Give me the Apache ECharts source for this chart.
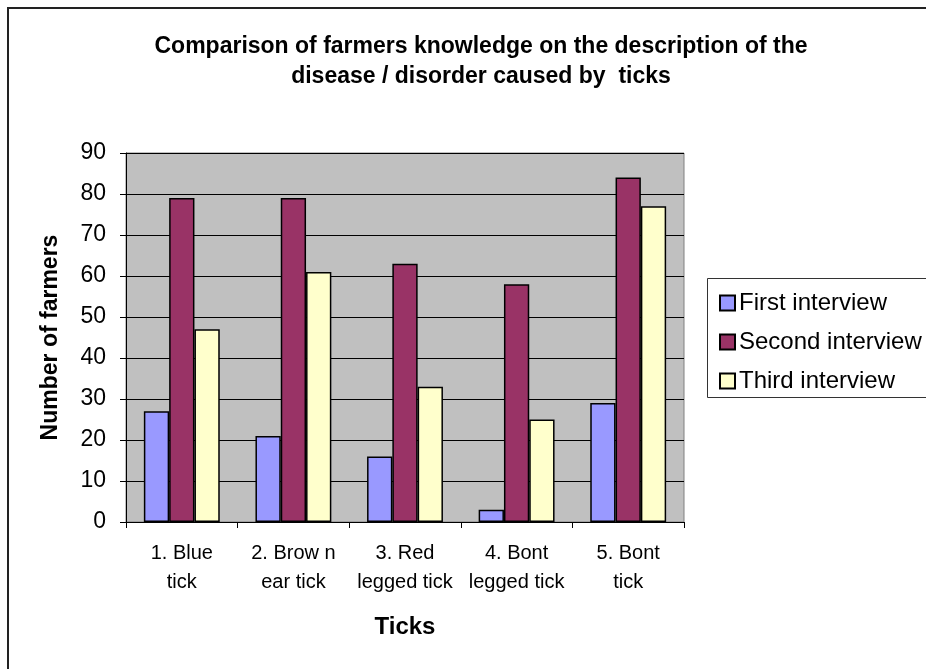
<!DOCTYPE html>
<html><head><meta charset="utf-8">
<script src="https://cdn.jsdelivr.net/npm/echarts@6/dist/echarts.min.js"></script>
<style>html,body{margin:0;padding:0;background:#fff}#c{width:926px;height:669px}</style>
</head><body><div id="c"></div>
<script>
const categories = ['1. Blue\ntick', '2. Brow n\near tick', '3. Red\nlegged tick', '4. Bont\nlegged tick', '5. Bont\ntick'];
const firstInterview = [27, 21, 16, 3, 29];
const secondInterview = [79, 79, 63, 58, 84];
const thirdInterview = [47, 61, 33, 25, 77];
const seriesNames = ['First interview', 'Second interview', 'Third interview'];
const yTicks = {min: 0, max: 90, interval: 10};

const FONT = '"Liberation Sans", Arial, sans-serif';
const chart = echarts.init(document.getElementById('c'));
const colors = ['#9999FF', '#993366', '#FFFFCC'];
const data = [firstInterview, secondInterview, thirdInterview];
chart.setOption({
  animation: false,
  textStyle: {fontFamily: FONT},
  title: {
    text: 'Comparison of farmers knowledge on the description of the\ndisease / disorder caused by  ticks',
    left: 476, top: 27, textAlign: 'center',
    textStyle: {fontFamily: FONT, fontSize: 23, fontWeight: 'bold', color: '#000', lineHeight: 30}
  },
  graphic: [
    {type: 'rect', shape: {x: 8, y: 8, width: 940, height: 680}, style: {fill: null, stroke: '#222', lineWidth: 2}, silent: true, z: -10},
    {type: 'rect', shape: {x: 707.5, y: 278.5, width: 230, height: 119}, style: {fill: '#fff', stroke: '#333', lineWidth: 1}, silent: true, z: -5}
  ],
  legend: {
    orient: 'vertical', left: 714, top: 286,
    itemWidth: 15, itemHeight: 15, itemGap: 15,
    icon: 'rect',
    data: seriesNames,
    textStyle: {fontFamily: FONT, fontSize: 24, color: '#000', padding: [0, 0, 0, -1]}
  },
  grid: {left: 126, top: 153, width: 558, height: 369, show: true, backgroundColor: '#C0C0C0', borderColor: '#808080', borderWidth: 1},
  xAxis: {
    type: 'category', data: categories,
    name: 'Ticks', nameLocation: 'middle', nameGap: 93,
    nameTextStyle: {fontFamily: FONT, fontSize: 24, fontWeight: 'bold', color: '#000'},
    axisLine: {lineStyle: {color: '#000', width: 1}},
    axisTick: {show: true, alignWithLabel: false, length: 6, lineStyle: {color: '#000'}},
    axisLabel: {fontFamily: FONT, fontSize: 20, color: '#000', lineHeight: 29, margin: 17, interval: 0}
  },
  yAxis: {
    type: 'value', min: yTicks.min, max: yTicks.max, interval: yTicks.interval,
    name: 'Number of farmers', nameLocation: 'middle', nameGap: 64,
    nameTextStyle: {fontFamily: FONT, fontSize: 23, fontWeight: 'bold', color: '#000'},
    axisLine: {show: true, lineStyle: {color: '#000', width: 1}},
    axisTick: {show: true, length: 6, lineStyle: {color: '#000'}},
    axisLabel: {fontFamily: FONT, fontSize: 23, color: '#000', margin: 20},
    splitLine: {show: true, lineStyle: {color: '#000', width: 1}}
  },
  series: seriesNames.map((n, i) => ({
    name: n, type: 'bar', data: data[i],
    barGap: '0%', barCategoryGap: '32%',
    itemStyle: {color: colors[i], borderColor: '#000', borderWidth: 1.5}
  }))
});
</script></body></html>
